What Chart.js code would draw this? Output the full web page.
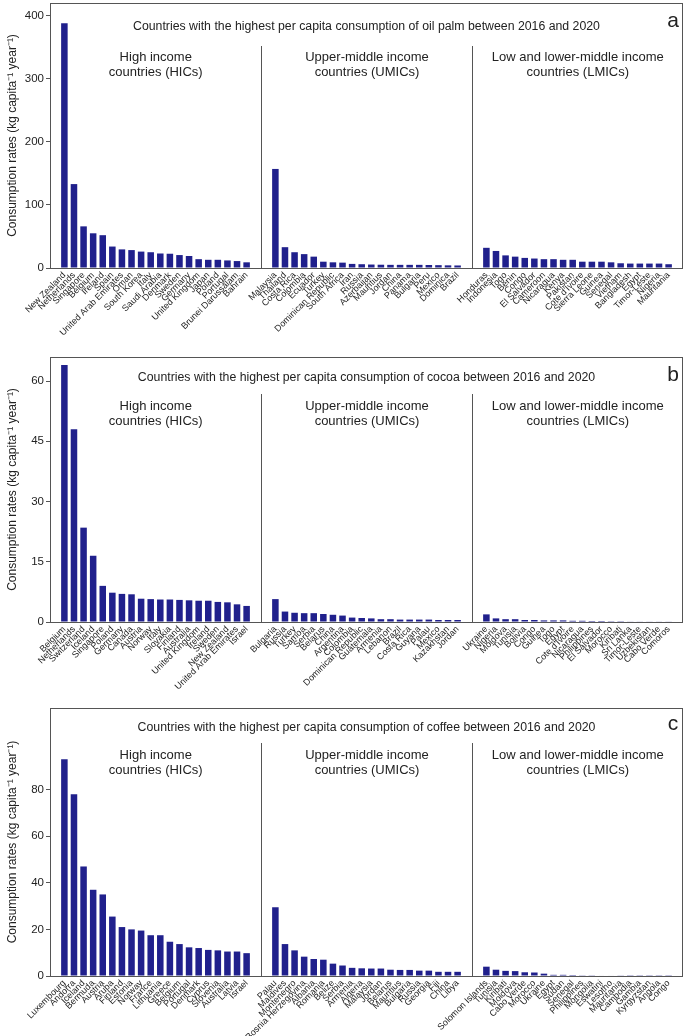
<!DOCTYPE html>
<html>
<head>
<meta charset="utf-8">
<script src="https://cdn.jsdelivr.net/npm/chart.js@4.4.1/dist/chart.umd.min.js"></script>
<style>
  body { margin: 0; background: #fff; }
  #wrap { position: relative; width: 685px; height: 1036px; }
  canvas { position: absolute; left: 0; }
</style>
</head>
<body>
<div id="wrap">
  <canvas id="oil" width="685" height="350" style="top:0px"></canvas>
  <canvas id="cocoa" width="685" height="350" style="top:350px"></canvas>
  <canvas id="coffee" width="685" height="336" style="top:700px"></canvas>
</div>
<script>
// oil palm
const oilHIC = ["New Zealand","Netherlands","Singapore","Belgium","Ireland","Spain","United Arab Emirates","Oman","South Korea","Italy","Saudi Arabia","Denmark","Sweden","Germany","United Kingdom","Japan","Poland","Portugal","Brunei Darussalam","Bahrain"];
const oilHICVals = [388,133,66,55,52,34,29.5,28.4,26,25,23,22.6,20.5,19,14,13,13,12,11,9];
const oilUMIC = ["Malaysia","Thailand","Costa Rica","Colombia","Ecuador","Turkey","Dominican Republic","South Africa","Iran","Russia","Azerbaijan","Mauritius","Jordan","China","Panama","Bulgaria","Peru","Mexico","Dominica","Brazil"];
const oilUMICVals = [157,33,25,22,18,10,9,8.5,6.5,6,5.5,5.2,5,5,5,5,4.8,4.5,4.2,4];
const oilLMIC = ["Honduras","Indonesia","Togo","Benin","Congo","El Salvador","Cameroon","Nicaragua","Kenya","Pakistan","Cote d'Ivoire","Sierra Leone","Guinea","Senegal","Vietnam","Bangladesh","Egypt","Timor-Leste","Nigeria","Mauritania"];
const oilLMICVals = [32,27,20,18,16,15,14,14,13,13,10,10,10,9,7.5,7,7,7,7,6];
const oilTicks = [0,100,200,300,400];

// cocoa
const cocoaHIC = ["Belgium","Netherlands","Switzerland","Iceland","Singapore","Poland","Germany","Canada","Austria","Norway","Italy","Slovakia","Finland","Australia","United Kingdom","Ireland","Sweden","New Zealand","United Arab Emirates","Israel"];
const cocoaHICVals = [64,48,23.5,16.5,9,7.3,7,6.9,5.8,5.7,5.6,5.6,5.5,5.4,5.3,5.3,5,4.9,4.4,4];
const cocoaUMIC = ["Bulgaria","Russia","Turkey","Samoa","Serbia","Belarus","China","Argentina","Colombia","Dominican Republic","Guatemala","Armenia","Lebanon","Brazil","Costa Rica","Guyana","Palau","Mexico","Kazakhstan","Jordan"];
const cocoaUMICVals = [5.7,2.6,2.3,2.2,2.2,2.0,1.8,1.6,1.1,1.0,0.9,0.7,0.7,0.6,0.6,0.6,0.6,0.5,0.5,0.5];
const cocoaLMIC = ["Ukraine","Nigeria","Moldova","Tunisia","Bolivia","Congo","Guinea","Togo","Egypt","Cote d'Ivoire","Nicaragua","Philippines","El Salvador","Morocco","Kiribati","Sri Lanka","Timor-Leste","Uzbekistan","Cabo Verde","Comoros"];
const cocoaLMICVals = [1.9,0.9,0.7,0.7,0.5,0.5,0.4,0.4,0.4,0.3,0.3,0.25,0.25,0.2,0.2,0.15,0.1,0.1,0.1,0.1];
const cocoaTicks = [0,15,30,45,60];

// coffee
const coffeeHIC = ["Luxembourg","Andorra","Iceland","Bermuda","Austria","Aruba","Finland","Estonia","Norway","France","Lithuania","Greece","Belgium","Portugal","Denmark","Cyprus","Slovenia","Australia","Latvia","Israel"];
const coffeeHICVals = [93,78,47,37,35,25.5,21,20,19.5,17.5,17.5,14.7,13.7,12.3,12,11.2,11,10.5,10.5,9.8];
const coffeeUMIC = ["Palau","Maldives","Montenegro","Bosnia Herzegovina","Albania","Romania","Belize","Serbia","Armenia","Algeria","Malaysia","Jordan","Belarus","Mauritius","Bulgaria","Russia","Georgia","Fiji","China","Libya"];
const coffeeUMICVals = [29.5,13.7,11,8.3,7.3,7,5.3,4.5,3.5,3.3,3.2,3.2,2.7,2.6,2.6,2.3,2.3,1.8,1.8,1.8];
const coffeeLMIC = ["Solomon Islands","Tunisia","Kiribati","Moldova","Cabo Verde","Morocco","Ukraine","Egypt","Sudan","Senegal","Philippines","Mongolia","Eswatini","Lesotho","Mauritania","Cambodia","Gambia","Kyrgyzstan","Angola","Congo"];
const coffeeLMICVals = [4,2.7,2.2,2.1,1.6,1.5,1.0,0.5,0.5,0.4,0.3,0.3,0.2,0.2,0.15,0.1,0.1,0.1,0.1,0.1];
const coffeeTicks = [0,20,40,60,80];

const groupNames = [["High income","countries (HICs)"],["Upper-middle income","countries (UMICs)"],["Low and lower-middle income","countries (LMICs)"]];

const FONT = '"Liberation Sans", Arial, Helvetica, sans-serif';
const BAR = 'rgb(32,32,140)';
const INK = '#222';
const LINE = '#555';

// spacer slots between the groups
function joinGroups(a, b, c, blank) {
  return [blank, ...a, blank, blank, ...b, blank, blank, ...c, blank];
}

const decor = {
  id: 'decor',
  afterDraw(chart, args, opts) {
    const ctx = chart.ctx;
    const area = chart.chartArea;
    const x = chart.scales.x;
    ctx.save();
    ctx.strokeStyle = LINE;
    ctx.lineWidth = 1;
    ctx.strokeRect(Math.round(area.left) + 0.5, Math.round(area.top) + 0.5,
      Math.round(area.right - area.left) - 1, Math.round(area.bottom - area.top));
    const d1 = Math.round(x.getPixelForValue(21.5)) + 0.5;
    const d2 = Math.round(x.getPixelForValue(43.5)) + 0.5;
    ctx.beginPath();
    ctx.moveTo(d1, area.top + opts.divTop); ctx.lineTo(d1, area.bottom);
    ctx.moveTo(d2, area.top + opts.divTop); ctx.lineTo(d2, area.bottom);
    ctx.stroke();

    ctx.fillStyle = INK;
    ctx.textAlign = 'center';
    ctx.textBaseline = 'middle';
    ctx.font = '12.3px ' + FONT;
    ctx.fillText(opts.title, (area.left + area.right) / 2, area.top + opts.titleY);
    ctx.font = '21px ' + FONT;
    ctx.fillText(opts.letter, area.right - 10, area.top + opts.letterY);

    ctx.font = '13px ' + FONT;
    const centers = [(area.left + d1) / 2, (d1 + d2) / 2, (d2 + area.right) / 2];
    centers.forEach((cx, i) => {
      ctx.fillText(groupNames[i][0], cx, area.top + opts.groupY);
      ctx.fillText(groupNames[i][1], cx, area.top + opts.groupY + 15);
    });
    ctx.restore();
  }
};

function makeChart(id, hic, hicV, umic, umicV, lmic, lmicV, ticks, yMax, padTop, xHeight, title, letter, pos) {
  const labels = joinGroups(hic, umic, lmic, '');
  const vals = joinGroups(hicV, umicV, lmicV, null);
  return new Chart(document.getElementById(id), {
    type: 'bar',
    data: {
      labels: labels,
      datasets: [{
        data: vals,
        backgroundColor: BAR,
        borderWidth: 0,
        barPercentage: 0.68,
        categoryPercentage: 1
      }]
    },
    options: {
      responsive: false,
      animation: false,
      devicePixelRatio: 1,
      layout: { padding: { top: padTop, right: 2, left: 0, bottom: 0 } },
      plugins: {
        legend: { display: false },
        tooltip: { enabled: false },
        decor: { title: title, letter: letter, titleY: pos[0], groupY: pos[1], divTop: pos[2], letterY: pos[3] }
      },
      scales: {
        x: {
          offset: true,
          grid: { display: false, drawTicks: false },
          border: { display: false },
          ticks: {
            autoSkip: false, minRotation: 45, maxRotation: 45, padding: 2,
            color: INK, font: { family: FONT, size: 9 }
          },
          afterFit(scale) {
            scale.height = xHeight;
            scale.paddingLeft = 0;
            scale.paddingRight = 0;
          }
        },
        y: {
          min: 0, max: yMax,
          grid: { drawOnChartArea: false, drawTicks: true, tickLength: 4, color: LINE },
          border: { display: false },
          ticks: { padding: 2, color: INK, font: { family: FONT, size: 11.5 } },
          afterBuildTicks(scale) { scale.ticks = ticks.map(v => ({ value: v })); },
          title: {
            display: true,
            text: 'Consumption rates (kg capita\u207B\u00B9 year\u207B\u00B9)',
            color: INK,
            font: { family: FONT, size: 12 },
            padding: { top: 5, bottom: 0 }
          },
          afterFit(scale) {
            scale.width = 50;
            scale.paddingTop = 0;
            scale.paddingBottom = 0;
          }
        }
      }
    },
    plugins: [decor]
  });
}

makeChart('oil', oilHIC, oilHICVals, oilUMIC, oilUMICVals, oilLMIC, oilLMICVals, oilTicks, 420, 3, 350 - 268,
  'Countries with the highest per capita consumption of oil palm between 2016 and 2020', 'a', [24, 54, 43, 18]);
makeChart('cocoa', cocoaHIC, cocoaHICVals, cocoaUMIC, cocoaUMICVals, cocoaLMIC, cocoaLMICVals, cocoaTicks, 66, 7, 350 - 272,
  'Countries with the highest per capita consumption of cocoa between 2016 and 2020', 'b', [21, 49, 37, 18]);
makeChart('coffee', coffeeHIC, coffeeHICVals, coffeeUMIC, coffeeUMICVals, coffeeLMIC, coffeeLMICVals, coffeeTicks, 115, 8, 336 - 276,
  'Countries with the highest per capita consumption of coffee between 2016 and 2020', 'c', [20, 47, 35, 16]);
</script>
</body>
</html>
